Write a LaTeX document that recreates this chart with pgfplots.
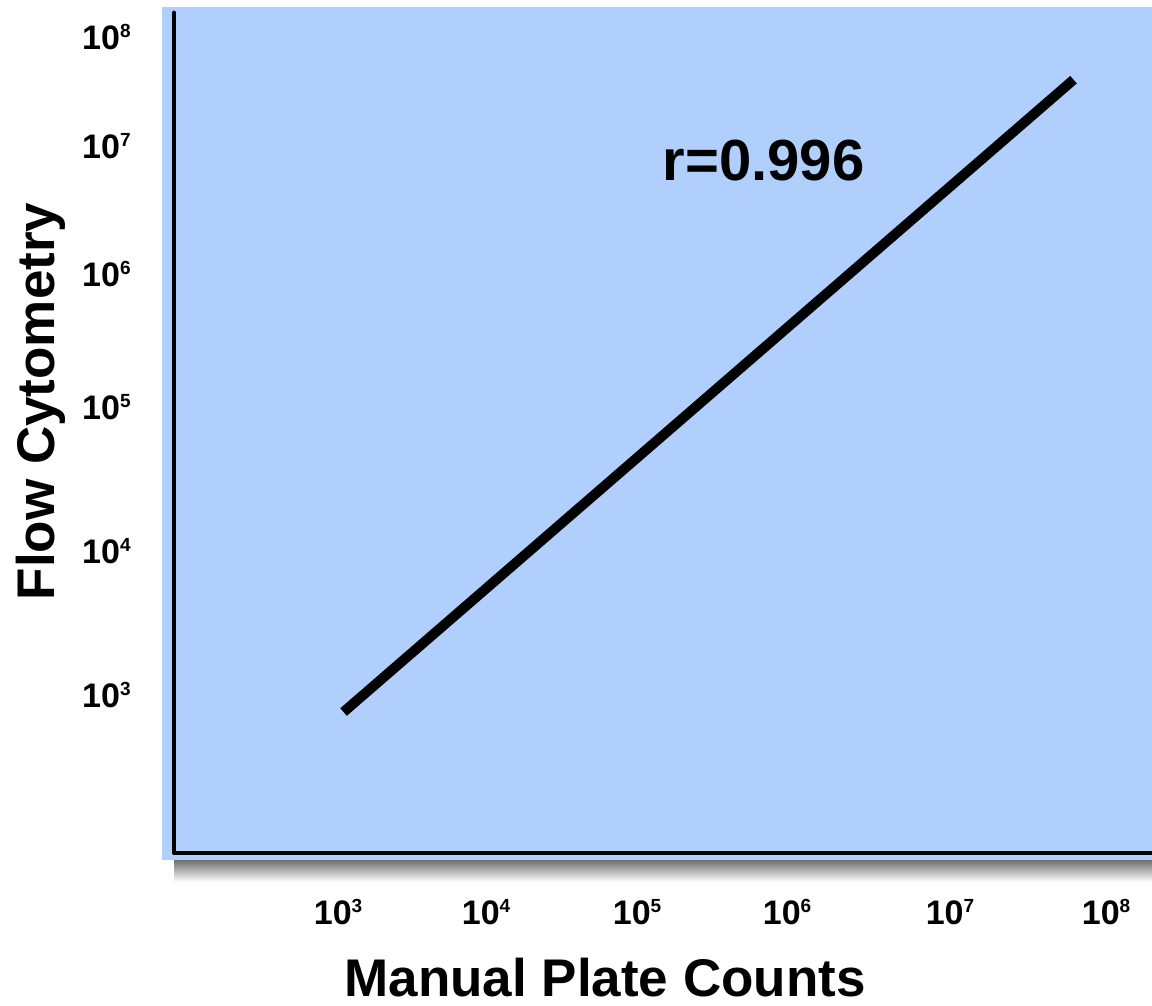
\documentclass[border=0pt]{standalone}
\usepackage{fontspec}
\setmainfont{Liberation Sans}
\usepackage{pgfplots}
\pgfplotsset{compat=1.18}
\definecolor{bgblue}{RGB}{176,207,252}
\newcommand{\tl}[1]{\fontsize{17}{17}\selectfont\bfseries 10\raisebox{6.0pt}{\fontsize{9.5}{9.5}\selectfont\bfseries #1}}
\begin{document}
\begin{tikzpicture}
\useasboundingbox (-87pt,-76.5pt) rectangle (489pt,426.5pt);
\begin{axis}[
  at={(0,0)}, anchor=south west,
  width=489pt, height=420.5pt, scale only axis,
  xmode=log, ymode=log,
  xmin=85.5, xmax=1.991e8,
  ymin=62.9, ymax=1.563e8,
  axis line style={draw=none},
  major tick length=0pt, minor tick num=0,
  tick style={draw=none},
  clip=false,
  xtick={1000,9194,88430,837500,9638000,1e8},
  xticklabels={\tl{3},\tl{4},\tl{5},\tl{6},\tl{7},\tl{8}},
  ytick={1000,12445,154900,1591000,14960000,1e8},
  yticklabels={\tl{3},\tl{4},\tl{5},\tl{6},\tl{7},\tl{8}},
  xticklabel style={anchor=center, inner sep=0pt, yshift=-29.75pt},
  yticklabel style={anchor=east, inner sep=0pt, xshift=-21.5pt},
  xlabel={Manual Plate Counts},
  ylabel={Flow Cytometry},
  xlabel style={at={(axis description cs:0.4407,-0.1712)}, anchor=base, inner sep=0pt, font=\fontsize{26.5}{26.5}\selectfont\bfseries},
  ylabel style={at={(axis description cs:-0.1217,0.5369)}, anchor=base, inner sep=0pt, font=\fontsize{26.5}{26.5}\selectfont\bfseries},
]
\fill[bgblue] ([xshift=-6pt,yshift=-3.75pt]rel axis cs:0,0) rectangle ([xshift=2pt,yshift=2.5pt]rel axis cs:1,1);
\shade[top color=black!55, middle color=black!42, bottom color=white] ([yshift=-3.75pt]rel axis cs:0,0) rectangle ([xshift=2pt,yshift=-14.5pt]rel axis cs:1,0);
\draw[line width=2.4pt, line cap=round, line join=round] ([yshift=-0.5pt]rel axis cs:0,1) -- (rel axis cs:0,0) -- ([xshift=2pt]rel axis cs:1,0);
\addplot[black, line width=5pt, line cap=butt] coordinates {(1086,742.5) (6.14e7,4.775e7)};
\node[anchor=base, font=\fontsize{29}{29}\selectfont\bfseries] at (rel axis cs:0.6028,0.8002) {r=0.996};
\end{axis}
\end{tikzpicture}
\end{document}
